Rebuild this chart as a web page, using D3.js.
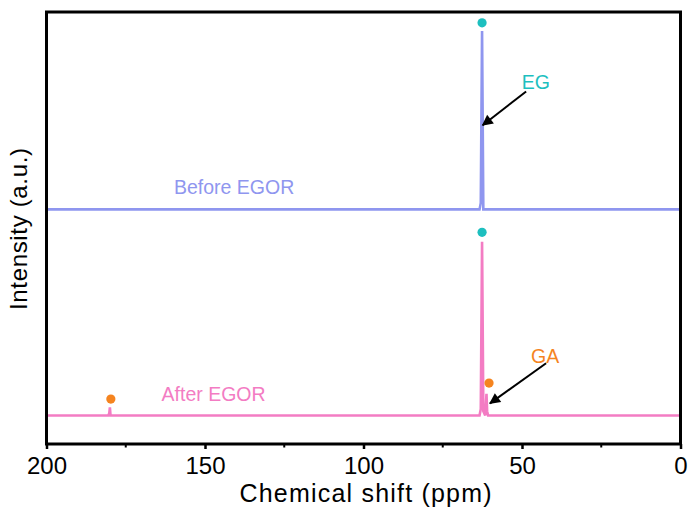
<!DOCTYPE html>
<html>
<head>
<meta charset="utf-8">
<script src="https://cdn.jsdelivr.net/npm/d3@7"></script>
<style>
  body { margin: 0; background: #fff; }
  text { font-family: "Liberation Sans", Arial, sans-serif; }
</style>
</head>
<body>
<svg id="chart" width="689" height="513"></svg>
<script>
// Spectra (shift in ppm, intensity in a.u. above each baseline)
var beforeShift = [200, 63.4, 63.0, 62.6, 62.2, 0];
var beforeIntensity = [0, 0, 0.15, 4.13, 0, 0];
var afterShift = [200, 180.5, 180.2, 180.0, 179.8, 63.4, 63.0, 62.6, 62.2, 61.6, 61.2, 61.0, 60.7, 0];
var afterIntensity = [0, 0, 0.05, 0.19, 0, 0, 0.15, 4.02, 0.1, 0, 0.5, 0.1, 0, 0];
var beforeOffset = 5.43,
    afterOffset = 0.66;

// Peak markers
var egMarkers = [[62.6, 9.75], [62.6, 4.9]];
var gaMarkers = [[179.7, 1.04], [60.4, 1.41]];

// x axis ticks
var majorTicks = [200, 150, 100, 50, 0];
var minorTicks = [175, 125, 75, 25];

var mLeft = 46.5, mRight = 680.5, mTop = 12, mBottom = 444;

var colBefore = "#8f96ef",
    colAfter = "#f37cc3",
    colEG = "#1dbfbf",
    colGA = "#f5841f";

var x = d3.scaleLinear().domain([200, 0]).range([mLeft, mRight]);
var y = d3.scaleLinear().domain([0, 10]).range([mBottom, mTop]);

var svg = d3.select("#chart");

var line = d3.line()
  .x(function(d) { return x(d[0]); })
  .y(function(d) { return y(d[1]); });

function series(shift, inten, off) {
  return shift.map(function(s, i) { return [s, inten[i] + off]; });
}

svg.append("path")
  .attr("d", line(series(beforeShift, beforeIntensity, beforeOffset)))
  .attr("fill", "none")
  .attr("stroke", colBefore)
  .attr("stroke-width", 2.6);

svg.append("path")
  .attr("d", line(series(afterShift, afterIntensity, afterOffset)))
  .attr("fill", "none")
  .attr("stroke", colAfter)
  .attr("stroke-width", 2.6);

// markers
svg.selectAll(".eg").data(egMarkers).enter().append("circle")
  .attr("cx", function(d) { return x(d[0]); })
  .attr("cy", function(d) { return y(d[1]); })
  .attr("r", 4.6)
  .attr("fill", colEG);

svg.selectAll(".ga").data(gaMarkers).enter().append("circle")
  .attr("cx", function(d) { return x(d[0]); })
  .attr("cy", function(d) { return y(d[1]); })
  .attr("r", 4.6)
  .attr("fill", colGA);

// arrows
var defs = svg.append("defs");
defs.append("marker")
  .attr("id", "head")
  .attr("viewBox", "0 0 10 10")
  .attr("refX", 9).attr("refY", 5)
  .attr("markerWidth", 7).attr("markerHeight", 5.5)
  .attr("markerUnits", "strokeWidth")
  .attr("orient", "auto")
  .append("path")
  .attr("d", "M0,0L10,5L0,10z")
  .attr("fill", "#000");

var arrows = [
  {from: [48.7, 8.16], to: [62.4, 7.38]},
  {from: [42.4, 1.87], to: [60.1, 0.94]}
];
svg.selectAll(".arrow").data(arrows).enter().append("line")
  .attr("x1", function(d) { return x(d.from[0]); })
  .attr("y1", function(d) { return y(d.from[1]); })
  .attr("x2", function(d) { return x(d.to[0]); })
  .attr("y2", function(d) { return y(d.to[1]); })
  .attr("stroke", "#000")
  .attr("stroke-width", 2)
  .attr("marker-end", "url(#head)");

// labels
var labels = [
  {text: "Before EGOR", at: [159.8, 5.78], anchor: "start", color: colBefore},
  {text: "After EGOR", at: [163.7, 1.0], anchor: "start", color: colAfter},
  {text: "EG", at: [45.6, 8.21], anchor: "middle", color: colEG},
  {text: "GA", at: [42.7, 1.875], anchor: "middle", color: colGA}
];
svg.selectAll(".lab").data(labels).enter().append("text")
  .attr("x", function(d) { return x(d.at[0]); })
  .attr("y", function(d) { return y(d.at[1]); })
  .attr("text-anchor", function(d) { return d.anchor; })
  .attr("fill", function(d) { return d.color; })
  .style("font-size", "19.5px")
  .text(function(d) { return d.text; });

// frame
svg.append("rect")
  .attr("x", mLeft).attr("y", mTop)
  .attr("width", mRight - mLeft).attr("height", mBottom - mTop)
  .attr("fill", "none")
  .attr("stroke", "#000")
  .attr("stroke-width", 3);

// x axis
var xAxis = svg.append("g")
  .attr("transform", "translate(0," + mBottom + ")")
  .call(d3.axisBottom(x).tickValues(majorTicks).tickSize(5).tickPadding(8));
xAxis.select(".domain").remove();
xAxis.selectAll(".tick line").attr("stroke-width", 2.5);
xAxis.selectAll(".tick text")
  .style("font-size", "24px")
  .style("font-family", "'Liberation Sans', Arial, sans-serif")
  .attr("fill", "#000");

svg.append("g").selectAll("line").data(minorTicks).enter().append("line")
  .attr("x1", function(d) { return x(d); })
  .attr("x2", function(d) { return x(d); })
  .attr("y1", mBottom)
  .attr("y2", mBottom + 3.5)
  .attr("stroke", "#000")
  .attr("stroke-width", 2);

svg.append("text")
  .attr("x", (mLeft + mRight) / 2 + 2)
  .attr("y", 502)
  .attr("text-anchor", "middle")
  .style("font-size", "25px")
  .attr("textLength", 252)
  .text("Chemical shift (ppm)");

svg.append("text")
  .attr("transform", "translate(27,229) rotate(-90)")
  .attr("text-anchor", "middle")
  .style("font-size", "24px")
  .attr("textLength", 162)
  .text("Intensity (a.u.)");
</script>
</body>
</html>
